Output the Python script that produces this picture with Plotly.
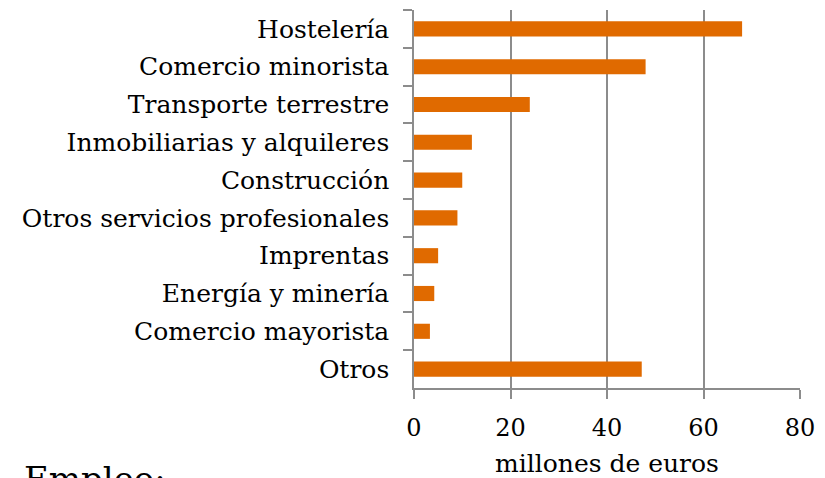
import plotly.graph_objects as go

categories = ["Hostelería", "Comercio minorista", "Transporte terrestre",
              "Inmobiliarias y alquileres", "Construcción",
              "Otros servicios profesionales", "Imprentas",
              "Energía y minería", "Comercio mayorista", "Otros"]
values = [68, 48, 24, 12, 10, 9, 5, 4.2, 3.3, 47.2]
x_ticks = [0, 20, 40, 60, 80]

FONT = "DejaVu Serif"
GRAY = "#8c8c8c"

# page body has an 8px margin; compensate so the plot sits where the reference has it
OFF = 8
W, H = 825 - OFF, 478 - OFF
L, T = 414 - OFF, 10 - OFF
R = W - (800 - OFF)
B = H - (388 - OFF)

fig = go.Figure(go.Bar(
    x=values, y=categories, orientation="h",
    marker=dict(color="#E06A00", line=dict(width=0)),
))

fig.update_layout(
    width=W, height=H,
    margin=dict(l=L, r=R, t=T, b=B),
    paper_bgcolor="white", plot_bgcolor="white",
    bargap=0.6, showlegend=False,
    font=dict(family=FONT, color="#000000", size=25),
    xaxis=dict(range=[0, 80], tickvals=x_ticks, ticktext=[str(v) for v in x_ticks],
               showgrid=True, gridcolor=GRAY, gridwidth=1.5,
               showline=True, linecolor=GRAY, linewidth=1.5,
               ticks="outside", ticklen=9, tickcolor=GRAY, tickwidth=1.5,
               tickfont=dict(size=24, family=FONT), ticklabelstandoff=8,
               title=dict(text="millones de euros", font=dict(size=25, family=FONT), standoff=18),
               zeroline=False, fixedrange=True, automargin=False),
    yaxis=dict(autorange="reversed", type="category",
               showline=True, linecolor=GRAY, linewidth=1.5,
               ticks="outside", ticklen=9, tickcolor=GRAY, tickwidth=1.5,
               tickson="boundaries", showgrid=False, automargin=False,
               tickfont=dict(size=25, family=FONT), ticklabelstandoff=18),
)

pw = W - L - R
ph = H - T - B
fig.add_annotation(text="Empleo:", x=(22 - OFF - L) / pw, y=(H - B - (457 - OFF)) / ph,
                   xref="paper", yref="paper", xanchor="left", yanchor="top",
                   showarrow=False, font=dict(size=34, family=FONT, color="#000"))

fig.write_html("out.html")
